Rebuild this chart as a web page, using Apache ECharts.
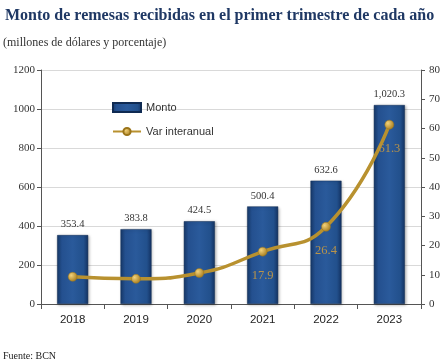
<!DOCTYPE html>
<html><head><meta charset="utf-8">
<script src="https://cdn.jsdelivr.net/npm/echarts@6/dist/echarts.min.js"></script>
<style>html,body{margin:0;padding:0;background:#fff}#c{width:448px;height:364px}</style>
</head><body><div id="c"></div>
<script>
var years = ['2018','2019','2020','2021','2022','2023'];
var monto = [353.4, 383.8, 424.5, 500.4, 632.6, 1020.3];
var varInteranual = [9.3, 8.6, 10.6, 17.9, 26.4, 61.3];
var varLabelShown = [false, false, false, true, true, true];
var leftTicks = [0, 200, 400, 600, 800, 1000, 1200];
var rightTicks = [0, 10, 20, 30, 40, 50, 60, 70, 80];

var serif = '"Liberation Serif", "DejaVu Serif", serif';
var sans = '"Liberation Sans", Arial, sans-serif';

var chart = echarts.init(document.getElementById('c'));
var barColor = new echarts.graphic.LinearGradient(0, 0, 1, 0, [
  {offset: 0, color: '#173a6b'},
  {offset: 0.15, color: '#24508f'},
  {offset: 0.5, color: '#2a5a9b'},
  {offset: 0.85, color: '#22508c'},
  {offset: 1, color: '#143363'}
]);
chart.setOption({
  animation: false,
  title: [
    {text: 'Monto de remesas recibidas en el primer trimestre de cada año', left: 0, top: 3,
     textStyle: {fontFamily: serif, fontWeight: 'bold', fontSize: 16, color: '#1f3864'}},
    {text: '(millones de dólares y porcentaje)', left: -2, top: 32,
     textStyle: {fontFamily: serif, fontWeight: 'normal', fontSize: 12, color: '#333'}},
    {text: 'Fuente: BCN', left: -2, top: 346,
     textStyle: {fontFamily: serif, fontWeight: 'normal', fontSize: 10, color: '#222'}}
  ],
  legend: {
    orient: 'vertical', left: 107, top: 97, itemGap: 13,
    itemWidth: 28, itemHeight: 9,
    textStyle: {fontFamily: sans, fontSize: 11, color: '#333'},
    data: [{name: 'Monto', icon: 'rect'}, {name: 'Var interanual'}]
  },
  grid: {left: 41, right: 27, top: 70, bottom: 60},
  xAxis: {
    type: 'category', data: years,
    axisLine: {lineStyle: {color: '#555'}},
    axisTick: {show: true, alignWithLabel: false, length: 5, lineStyle: {color: '#555'}},
    axisLabel: {fontFamily: sans, fontSize: 11.5, color: '#222', margin: 10}
  },
  yAxis: [
    {type: 'value', min: 0, max: 1200, interval: 200,
     axisLine: {show: true, lineStyle: {color: '#555'}},
     axisTick: {show: true, length: 4, lineStyle: {color: '#555'}},
     axisLabel: {fontFamily: serif, fontSize: 11, color: '#333', margin: 6,
       formatter: function (v) { return String(v); }},
     splitLine: {lineStyle: {color: '#d9d9d9'}}},
    {type: 'value', min: 0, max: 80, interval: 10, position: 'right',
     axisLine: {show: true, lineStyle: {color: '#555'}},
     axisTick: {show: true, length: 4, lineStyle: {color: '#555'}},
     axisLabel: {fontFamily: serif, fontSize: 11, color: '#333', margin: 8},
     splitLine: {show: false}}
  ],
  series: [
    {name: 'Monto', type: 'bar', data: monto, barWidth: '49%',
     itemStyle: {color: barColor, borderColor: '#0f2a52', borderWidth: 0.5,
       shadowColor: 'rgba(0,0,0,0.3)', shadowBlur: 3, shadowOffsetX: 1, shadowOffsetY: 1},
     label: {show: true, position: 'top', distance: 5, fontFamily: serif, fontSize: 10.5, color: '#333',
       formatter: function (p) { return p.value.toLocaleString('en-US', {minimumFractionDigits: 1, maximumFractionDigits: 1}); }}},
    {name: 'Var interanual', type: 'line', yAxisIndex: 1, smooth: 0.5,
     data: varInteranual.map(function (v, i) {
       return {value: v, label: {show: varLabelShown[i]}};
     }),
     symbol: 'circle', symbolSize: 9,
     lineStyle: {color: '#b8912f', width: 3.5},
     itemStyle: {color: new echarts.graphic.RadialGradient(0.35, 0.35, 0.7, [
       {offset: 0, color: '#f3d27a'}, {offset: 1, color: '#a67c1e'}]), borderColor: '#9b7419', borderWidth: 0.5},
     label: {position: 'bottom', distance: 13, fontFamily: serif, fontSize: 12.5, color: '#b8934a',
       formatter: function (p) { return p.value.toFixed(1); }}}
  ]
});
</script></body></html>
